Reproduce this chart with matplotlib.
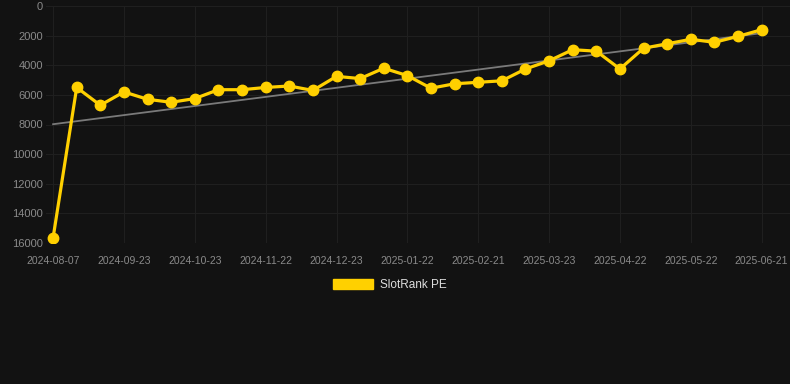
import numpy as np
import matplotlib
matplotlib.use("Agg")
import matplotlib.pyplot as plt
from matplotlib.patches import Patch

plt.rcParams['font.family'] = ['Liberation Sans', 'DejaVu Sans']

# dates of the samples (category axis, every 3rd one is labelled)
dates = ["2024-08-07", "2024-08-28", "2024-09-13", "2024-09-23", "2024-10-03", "2024-10-13",
         "2024-10-23", "2024-11-02", "2024-11-12", "2024-11-22", "2024-12-02", "2024-12-12",
         "2024-12-23", "2025-01-02", "2025-01-12", "2025-01-22", "2025-02-01", "2025-02-11",
         "2025-02-21", "2025-03-03", "2025-03-13", "2025-03-23", "2025-04-02", "2025-04-12",
         "2025-04-22", "2025-05-02", "2025-05-12", "2025-05-22", "2025-06-01", "2025-06-11",
         "2025-06-21"]
rank = [15650, 5500, 6700, 5800, 6300, 6500, 6250, 5650, 5650, 5500, 5400, 5700,
        4750, 4900, 4200, 4700, 5550, 5250, 5150, 5050, 4250, 3700, 2950, 3050,
        4250, 2850, 2550, 2250, 2450, 2050, 1600]
series_name = "SlotRank PE"
y_ticks = [0, 2000, 4000, 6000, 8000, 10000, 12000, 14000, 16000]

bg = "#121212"
gold = "#FFD000"

fig = plt.figure(figsize=(7.9, 3.84), dpi=100, facecolor=bg)
ax = fig.add_axes([46 / 790, 1 - 243 / 384, (790 - 46) / 790, (243 - 6) / 384])
ax.set_facecolor(bg)

x = np.arange(len(rank))
# linear trend through the series
k, b = np.polyfit(x, rank, 1)
ax.plot(x, k * x + b, color="#7a7a7a", lw=1.3, zorder=2)
ax.plot(x, rank, color=gold, lw=2.3, marker="o", markersize=7.5, zorder=3)

ax.set_xlim(-0.3, 31.2)
ax.set_ylim(16000, 0)
ax.set_yticks(y_ticks)
ax.set_yticklabels([str(v) for v in y_ticks])
ax.set_xticks(x[::3])
ax.set_xticklabels(dates[::3])

ax.grid(True, color="#202020", lw=0.7)
for s in ax.spines.values():
    s.set_visible(False)
ax.tick_params(axis="both", length=0, colors="#8a8a8a")
ax.tick_params(axis="x", labelsize=7.5, pad=9)
ax.tick_params(axis="y", labelsize=8, pad=2)

handle = Patch(facecolor=gold, edgecolor=gold)
leg = fig.legend([handle], [series_name], loc="center", bbox_to_anchor=(389.5 / 790, 1 - 285 / 384),
                 frameon=False, fontsize=8.5, handlelength=3.4, handleheight=1.0,
                 handletextpad=0.6, labelcolor="#dddddd")

fig.savefig("out.png", dpi=100, facecolor=bg)
